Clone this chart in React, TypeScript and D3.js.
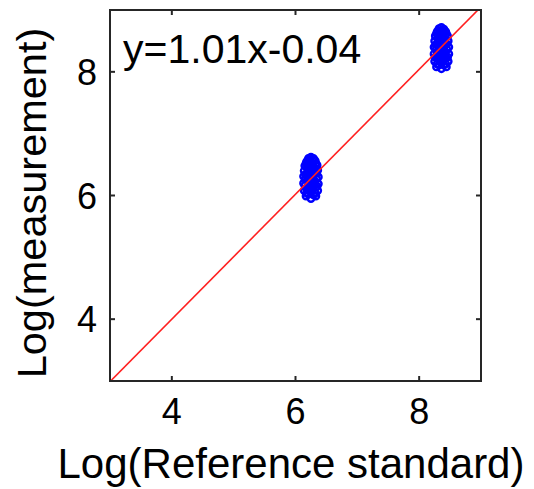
import React from "react";
import * as d3 from "d3";

// Calibration data: log reference standard vs log measurement
const lowGroup: [number, number][] = [
  [6.25, 6.62], [6.21, 6.60], [6.29, 6.60], [6.18, 6.55], [6.32, 6.56], [6.25, 6.54],
  [6.15, 6.48], [6.35, 6.49], [6.22, 6.47], [6.28, 6.46], [6.14, 6.40], [6.36, 6.41],
  [6.25, 6.40], [6.19, 6.36], [6.31, 6.35], [6.13, 6.31], [6.37, 6.30], [6.25, 6.28],
  [6.20, 6.24], [6.30, 6.25], [6.13, 6.20], [6.37, 6.19], [6.25, 6.17], [6.17, 6.12],
  [6.33, 6.13], [6.14, 6.08], [6.36, 6.08], [6.25, 6.05], [6.21, 6.02], [6.29, 6.01],
  [6.17, 5.99], [6.33, 5.99], [6.25, 5.95], [6.19, 6.44], [6.31, 6.44], [6.16, 6.27],
  [6.34, 6.27], [6.21, 6.15], [6.29, 6.16], [6.24, 6.34], [6.26, 6.22],
  [6.17, 6.52], [6.33, 6.52], [6.16, 6.34], [6.34, 6.36], [6.15, 6.16], [6.35, 6.15],
  [6.18, 6.04], [6.32, 6.04], [6.20, 6.57], [6.30, 6.58], [6.22, 6.30], [6.28, 6.31],
  [6.21, 6.39], [6.29, 6.39], [6.22, 6.20], [6.28, 6.21], [6.22, 6.09], [6.28, 6.10],
];
const highGroup: [number, number][] = [
  [8.36, 8.72], [8.32, 8.70], [8.40, 8.69], [8.29, 8.65], [8.43, 8.65], [8.36, 8.63],
  [8.26, 8.58], [8.46, 8.58], [8.33, 8.56], [8.39, 8.55], [8.25, 8.50], [8.47, 8.50],
  [8.36, 8.49], [8.30, 8.45], [8.42, 8.45], [8.24, 8.40], [8.48, 8.40], [8.36, 8.38],
  [8.31, 8.34], [8.41, 8.34], [8.24, 8.29], [8.48, 8.29], [8.36, 8.27], [8.28, 8.22],
  [8.44, 8.22], [8.25, 8.17], [8.47, 8.17], [8.36, 8.14], [8.32, 8.11], [8.40, 8.11],
  [8.28, 8.08], [8.44, 8.08], [8.36, 8.05], [8.30, 8.53], [8.42, 8.53], [8.27, 8.36],
  [8.45, 8.36], [8.32, 8.25], [8.40, 8.25], [8.35, 8.43], [8.37, 8.31],
  [8.28, 8.62], [8.44, 8.62], [8.27, 8.44], [8.45, 8.45], [8.26, 8.24], [8.46, 8.24],
  [8.29, 8.13], [8.43, 8.13], [8.33, 8.66], [8.39, 8.66], [8.33, 8.40], [8.39, 8.41],
  [8.32, 8.48], [8.40, 8.48], [8.33, 8.30], [8.39, 8.30], [8.33, 8.19], [8.39, 8.19],
];
const fitSlope = 1.01;
const fitIntercept = -0.04;
const fitLabel = "y=1.01x-0.04";
const xTicks = [4, 6, 8];
const yTicks = [4, 6, 8];
const xTitle = "Log(Reference standard)";
const yTitle = "Log(measurement)";

const W = 534;
const H = 489;
const left = 110;
const right = 481;
const top = 10;
const bottom = 381;
const font = "Arial, 'Liberation Sans', sans-serif";
const axisColor = "#262626";

export default function App() {
  const x = d3.scaleLinear().domain([3, 9]).range([left, right]);
  const y = d3.scaleLinear().domain([3, 9]).range([bottom, top]);
  const fitX = [3, 9];
  const fitPath = d3
    .line<number>()
    .x((v) => x(v))
    .y((v) => y(fitSlope * v + fitIntercept))(fitX);
  const tickLen = 5;
  const pts = [...lowGroup, ...highGroup];

  return (
    <svg width={W} height={H} style={{ position: "absolute", left: 0, top: 0, background: "#fff" }}>
      <defs>
        <clipPath id="plotArea">
          <rect x={left} y={top} width={right - left} height={bottom - top} />
        </clipPath>
      </defs>
      <rect x={0} y={0} width={W} height={H} fill="#fff" />
      <g clipPath="url(#plotArea)">
        {pts.map((p, i) => (
          <circle key={i} cx={x(p[0])} cy={y(p[1])} r={3.2} fill="none" stroke="#0000ff" strokeWidth={2.4} />
        ))}
        <path d={fitPath ?? ""} fill="none" stroke="#ff2020" strokeWidth={1.6} />
      </g>
      <rect x={left} y={top} width={right - left} height={bottom - top} fill="none" stroke={axisColor} strokeWidth={2} />
      {xTicks.map((t) => (
        <g key={"x" + t}>
          <line x1={x(t)} x2={x(t)} y1={bottom} y2={bottom - tickLen} stroke={axisColor} strokeWidth={2} />
          <line x1={x(t)} x2={x(t)} y1={top} y2={top + tickLen} stroke={axisColor} strokeWidth={2} />
          <text x={x(t)} y={424} textAnchor="middle" fontFamily={font} fontSize={36} fill="#000">
            {t}
          </text>
        </g>
      ))}
      {yTicks.map((t) => (
        <g key={"y" + t}>
          <line x1={left} x2={left + tickLen} y1={y(t)} y2={y(t)} stroke={axisColor} strokeWidth={2} />
          <line x1={right} x2={right - tickLen} y1={y(t)} y2={y(t)} stroke={axisColor} strokeWidth={2} />
          <text x={97} y={y(t) + 13} textAnchor="end" fontFamily={font} fontSize={36} fill="#000">
            {t}
          </text>
        </g>
      ))}
      <text x={123} y={63} fontFamily={font} fontSize={41} fill="#000">
        {fitLabel}
      </text>
      <text x={291} y={478} textAnchor="middle" fontFamily={font} fontSize={42} fill="#000">
        {xTitle}
      </text>
      <text
        transform={`translate(46, 203) rotate(-90)`}
        textAnchor="middle"
        fontFamily={font}
        fontSize={41.5}
        fill="#000"
      >
        {yTitle}
      </text>
    </svg>
  );
}
